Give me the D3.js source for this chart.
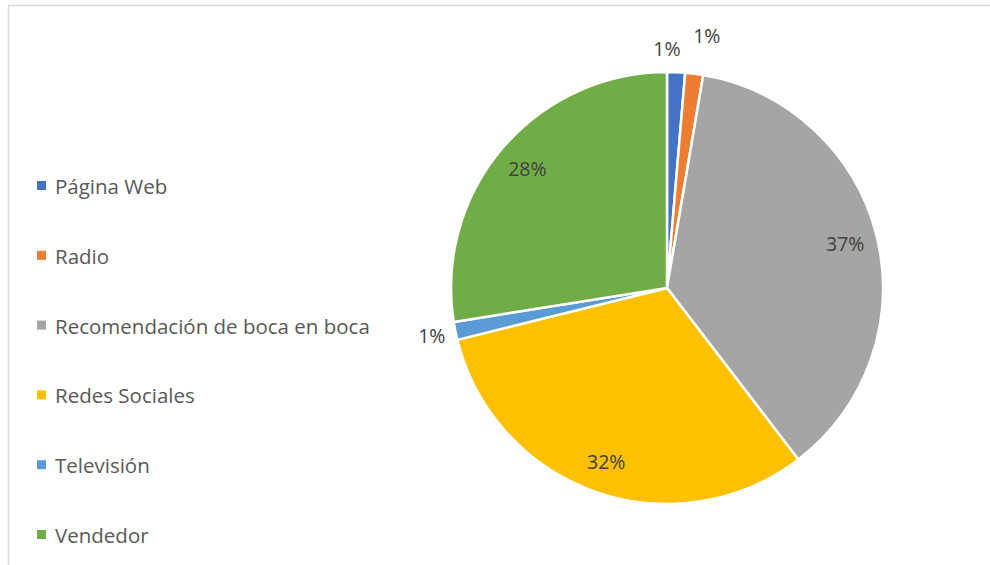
<!DOCTYPE html>
<html>
<head>
<meta charset="utf-8">
<script src="https://cdn.jsdelivr.net/npm/d3@7"></script>
<style>
  html, body { margin: 0; padding: 0; background: #fff; }
  svg { display: block; font-family: "Open Sans", Lato, sans-serif; }
</style>
</head>
<body>
<svg id="chart" width="990" height="565"></svg>
<script>
// Medio por el que conocieron la empresa
const categories = ["Página Web", "Radio", "Recomendación de boca en boca", "Redes Sociales", "Televisión", "Vendedor"];
const counts = [2, 2, 55, 47, 2, 41];
const colors = ["#4472C4", "#ED7D31", "#A5A5A5", "#FFC000", "#5B9BD5", "#70AD47"];

const svg = d3.select("#chart");
const W = 990, H = 565;

// Chart area frame
svg.append("path")
  .attr("d", `M8.5,${H} L8.5,5.5 L${W},5.5`)
  .attr("fill", "none")
  .attr("stroke", "#D9D9D9")
  .attr("stroke-width", 1.5);

const cx = 667, cy = 288, R = 216;
const total = d3.sum(counts);
const pct = d3.format(".0%");

const pie = d3.pie().sort(null).value(d => d)(counts);
const arc = d3.arc().innerRadius(0).outerRadius(R);
const inLabel = d3.arc().innerRadius(R * 0.85).outerRadius(R * 0.85);

const g = svg.append("g").attr("transform", `translate(${cx},${cy})`);

g.selectAll("path.slice")
  .data(pie)
  .join("path")
  .attr("class", "slice")
  .attr("d", arc)
  .attr("fill", (d, i) => colors[i])
  .attr("stroke", "#fff")
  .attr("stroke-width", 2.5)
  .attr("stroke-linejoin", "round");

// Data labels: inside for large slices, outside for thin ones.
// Two adjacent thin slices get their labels staggered so they don't collide.
const isSmall = d => d.value / total <= 0.05;
pie.forEach((d, i) => {
  const share = d.value / total;
  let pos;
  if (!isSmall(d)) {
    pos = inLabel.centroid(d);
  } else {
    const prevSmall = i > 0 && isSmall(pie[i - 1]);
    const nextSmall = i < pie.length - 1 && isSmall(pie[i + 1]);
    const r = prevSmall ? R + 40 : R + 24;
    let a = (d.startAngle + d.endAngle) / 2;
    if (nextSmall) a = d.startAngle;
    if (prevSmall) a = d.startAngle + (d.endAngle - d.startAngle) * 0.85;
    pos = [r * Math.sin(a), -r * Math.cos(a)];
  }
  g.append("text")
    .attr("x", pos[0])
    .attr("y", pos[1])
    .attr("text-anchor", "middle")
    .attr("dominant-baseline", "central")
    .attr("font-size", 19.5)
    .attr("fill", "#404040")
    .text(pct(share));
});

// Legend
const legend = svg.append("g");
const ly = d3.scalePoint().domain(categories).range([186, 535]);
categories.forEach((c, i) => {
  const y = ly(c);
  legend.append("rect")
    .attr("x", 37).attr("y", y - 5)
    .attr("width", 9).attr("height", 9)
    .attr("fill", colors[i]);
  legend.append("text")
    .attr("x", 55).attr("y", y)
    .attr("dominant-baseline", "central")
    .attr("font-size", 20.5)
    .attr("fill", "#595959")
    .text(c);
});
</script>
</body>
</html>
